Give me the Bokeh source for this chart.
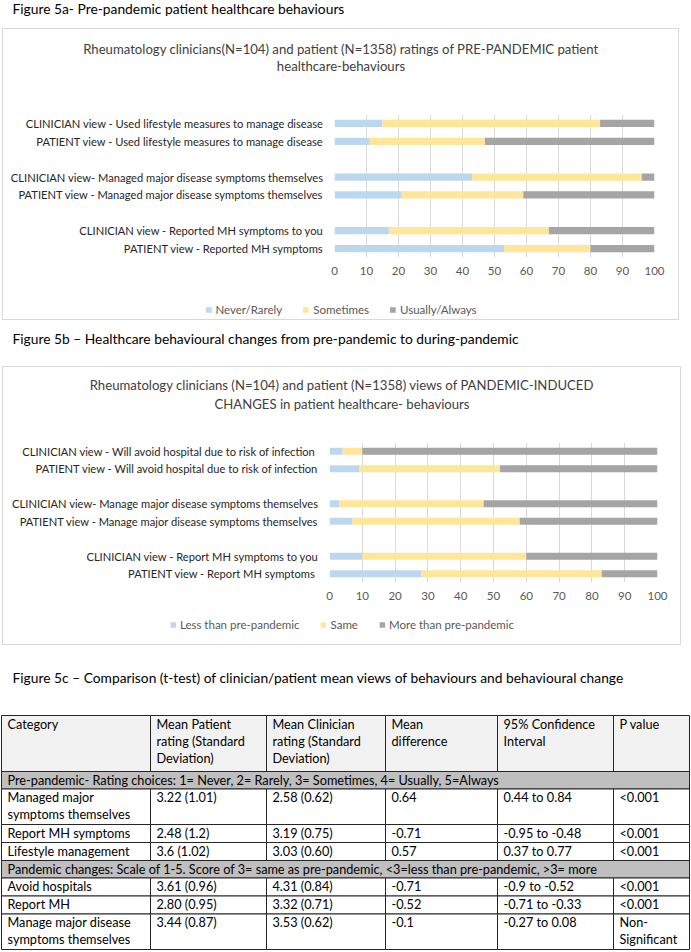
from bokeh.plotting import figure
from bokeh.models import ColumnDataSource, FactorRange, Range1d, Legend, LegendItem
from bokeh.layouts import column
from bokeh.embed import file_html
from bokeh.resources import INLINE
from bokeh.core.properties import value

FONT = "Lato"
NAN = float("nan")

# ---------------- data: figure 5a ----------------
caption_a = "Figure 5a- Pre-pandemic patient healthcare behaviours"
title_a = ["Rheumatology clinicians(N=104) and patient (N=1358) ratings of PRE-PANDEMIC patient",
           "healthcare-behaviours"]
labels_a = ["CLINICIAN view - Used lifestyle measures to manage disease",
            "PATIENT view - Used lifestyle measures to manage disease",
            "CLINICIAN view- Managed major disease symptoms themselves",
            "PATIENT view - Managed major disease symptoms themselves",
            "CLINICIAN view - Reported MH symptoms to you",
            "PATIENT view - Reported MH symptoms"]
never_a = [15, 11, 43, 21, 17, 53]
sometimes_a = [68, 36, 53, 38, 50, 27]
usually_a = [17, 53, 4, 41, 33, 20]
series_a = ["Never/Rarely", "Sometimes", "Usually/Always"]

# ---------------- data: figure 5b ----------------
caption_b = "Figure 5b \u2013 Healthcare behavioural changes from pre-pandemic to during-pandemic"
title_b = ["Rheumatology clinicians (N=104) and patient (N=1358) views of PANDEMIC-INDUCED",
           "CHANGES in patient healthcare- behaviours"]
labels_b = ["CLINICIAN  view - Will avoid hospital due to risk of infection",
            "PATIENT view - Will avoid hospital due to risk of infection",
            "CLINICIAN view- Manage major disease symptoms themselves",
            "PATIENT view - Manage major disease symptoms themselves",
            "CLINICIAN view - Report MH symptoms to you",
            "PATIENT view - Report MH symptoms "]
less_b = [4, 9, 3, 7, 10, 28]
same_b = [6, 43, 44, 51, 50, 55]
more_b = [90, 48, 53, 42, 40, 17]
series_b = ["Less than pre-pandemic", "Same", "More than pre-pandemic"]

x_ticks = [0, 10, 20, 30, 40, 50, 60, 70, 80, 90, 100]

# ---------------- data: figure 5c table ----------------
caption_c = "Figure 5c \u2013 Comparison (t-test) of clinician/patient mean views of behaviours and behavioural change"
table_header = ["Category", "Mean Patient\nrating (Standard\nDeviation)",
                "Mean Clinician\nrating (Standard\nDeviation)", "Mean\ndifference",
                "95% Confidence\nInterval", "P value"]
section_pre = "Pre-pandemic- Rating choices: 1= Never, 2= Rarely, 3= Sometimes, 4= Usually,  5=Always"
rows_pre = [
    ["Managed major\nsymptoms themselves", "3.22 (1.01)", "2.58 (0.62)", "0.64", "0.44 to 0.84", "<0.001"],
    ["Report MH symptoms", "2.48 (1.2)", "3.19 (0.75)", "-0.71", "-0.95 to -0.48", "<0.001"],
    ["Lifestyle management", "3.6 (1.02)", "3.03 (0.60)", "0.57", "0.37 to 0.77", "<0.001"],
]
section_pan = "Pandemic changes: Scale of 1-5. Score of 3= same as pre-pandemic, <3=less than pre-pandemic, >3= more"
rows_pan = [
    ["Avoid hospitals", "3.61 (0.96)", "4.31 (0.84)", "-0.71", "-0.9 to -0.52", "<0.001"],
    ["Report MH", "2.80 (0.95)", "3.32 (0.71)", "-0.52", "-0.71 to -0.33", "<0.001"],
    ["Manage major disease\nsymptoms themselves", "3.44 (0.87)", "3.53 (0.62)", "-0.1", "-0.27 to 0.08", "Non-\nSignificant"],
]

COLORS = ["#bdd7ee", "#ffe699", "#a5a5a5"]
FRAME_COLOR = "#d9d9d9"
CAPTION_SIZE = "13.8px"


def no_align(p):
    try:
        p.frame_align = False
    except Exception:
        pass
    return p


def text_fig(w, h):
    p = figure(width=w, height=h, x_range=Range1d(0, w), y_range=Range1d(h, 0),
               output_backend="svg", toolbar_location=None, min_border=0,
               x_axis_location=None, y_axis_location=None)
    p.grid.visible = False
    p.outline_line_color = None
    p.background_fill_color = None
    p.border_fill_color = None
    return no_align(p)


def caption_fig(text, h, y):
    p = text_fig(691, h)
    p.text(x=[12], y=[y], text=[text], text_font=value(FONT), text_font_size=CAPTION_SIZE,
           text_baseline="middle", text_align="left", text_color="#000000")
    return p


def bar_chart(title_lines, labels, vals, names, W, title_h, title_ys,
              frame_left, frame_right, frame_top, frame_h, chart_h, legend_h, legend_margin):
    # chart title (two centred lines)
    tf = text_fig(W, title_h)
    tf.text(x=[W / 2, W / 2], y=title_ys, text=title_lines, text_font=value(FONT),
            text_font_size="13.15px", text_baseline="middle", text_align="center",
            text_color="#404040")

    # stacked bars
    slots = [labels[0], labels[1], " ", labels[2], labels[3], "  ", labels[4], labels[5]]
    p = figure(width=W, height=chart_h, y_range=FactorRange(factors=slots[::-1]),
               x_range=Range1d(0, 100), output_backend="svg", toolbar_location=None,
               min_border_left=frame_left, min_border_right=W - frame_right,
               min_border_top=frame_top, min_border_bottom=chart_h - frame_top - frame_h)
    no_align(p)
    p.outline_line_color = None
    src = ColumnDataSource(dict(label=labels, s0=vals[0], s1=vals[1], s2=vals[2]))
    p.hbar_stack(["s0", "s1", "s2"], y="label", height=0.4, color=COLORS,
                 line_color=None, source=src)

    p.xaxis.ticker = x_ticks
    p.xaxis.axis_line_color = None
    p.xaxis.major_tick_line_color = None
    p.xaxis.minor_tick_line_color = None
    p.xaxis.major_tick_out = 0
    p.xaxis.major_label_standoff = 9
    p.xaxis.major_label_text_font = FONT
    p.xaxis.major_label_text_font_size = "11.5px"
    p.xaxis.major_label_text_color = "#595959"

    p.yaxis.axis_line_color = None
    p.yaxis.major_tick_line_color = None
    p.yaxis.major_tick_out = 0
    p.yaxis.major_label_standoff = 11
    p.yaxis.major_label_text_font = FONT
    p.yaxis.major_label_text_font_size = "11.15px"
    p.yaxis.major_label_text_color = "#262626"

    p.xgrid.ticker = x_ticks
    p.xgrid.grid_line_color = FRAME_COLOR
    p.ygrid.grid_line_color = None

    # legend strip (legend keys are proxies with no visible data)
    lf = text_fig(W, legend_h)
    proxies = [lf.quad(left=[NAN], right=[NAN], top=[NAN], bottom=[NAN],
                       fill_color=c, line_color=None) for c in COLORS]
    legend = Legend(items=[LegendItem(label=n, renderers=[r]) for n, r in zip(names, proxies)],
                    orientation="horizontal", location="top_center",
                    glyph_width=7, glyph_height=7, label_height=14, label_standoff=4,
                    spacing=20, padding=0, margin=legend_margin, border_line_color=None,
                    background_fill_alpha=0, label_text_font=FONT,
                    label_text_font_size="11.5px", label_text_color="#595959")
    lf.add_layout(legend, "center")

    return column(tf, p, lf, spacing=0, margin=(0, 0, 0, 2),
                  styles={"border": "1px solid " + FRAME_COLOR})


cap_a = caption_fig(caption_a, 28, 8)
chart_a = bar_chart(title_a, labels_a, [never_a, sometimes_a, usually_a], series_a,
                    W=675, title_h=60, title_ys=[19, 36],
                    frame_left=331, frame_right=651, frame_top=25, frame_h=143,
                    chart_h=200, legend_h=30, legend_margin=13)
cap_b = caption_fig(caption_b, 46, 18)
chart_b = bar_chart(title_b, labels_b, [less_b, same_b, more_b], series_b,
                    W=677, title_h=55, title_ys=[17, 36],
                    frame_left=326, frame_right=654, frame_top=20, frame_h=140,
                    chart_h=192, legend_h=30, legend_margin=3)

# ---------------- table ----------------
tbl_h = 307
tbl = text_fig(691, tbl_h)
tbl.text(x=[12], y=[32], text=[caption_c], text_font=value(FONT), text_font_size=CAPTION_SIZE,
         text_baseline="middle", text_align="left", text_color="#000000")

col_edges = [1, 150, 266, 385, 497, 613, 689]
line_h = 17.5
rows = [("cells", table_header, "#f2f2f2"), ("section", section_pre, "#bfbfbf")]
rows += [("cells", r, "#ffffff") for r in rows_pre]
rows += [("section", section_pan, "#bfbfbf")]
rows += [("cells", r, "#ffffff") for r in rows_pan]

q = dict(left=[], right=[], top=[], bottom=[], fill=[])
t = dict(x=[], y=[], text=[])
y0 = 70
for i, (kind, content, fill) in enumerate(rows):
    if i == 0:
        h = 56
    elif kind == "section":
        h = line_h
    else:
        n = max(c.count("\n") + 1 for c in content)
        h = 0.5 + line_h * n
    cells = [content] if kind == "section" else content
    edges = [col_edges[0], col_edges[-1]] if kind == "section" else col_edges
    for j, c in enumerate(cells):
        q["left"].append(edges[j]); q["right"].append(edges[j + 1])
        q["top"].append(y0); q["bottom"].append(y0 + h); q["fill"].append(fill)
        for k, line in enumerate(c.split("\n")):
            t["x"].append(edges[j] + 6)
            t["y"].append(y0 + 8 + 17 * k)
            t["text"].append(line)
    y0 += h

tbl.quad(left="left", right="right", top="top", bottom="bottom", fill_color="fill",
         line_color="#262626", line_width=1, source=ColumnDataSource(q))
tbl.text(x="x", y="y", text="text", source=ColumnDataSource(t), text_font=value(FONT),
         text_font_size="12.7px", text_baseline="alphabetic", text_align="left",
         text_color="#000000")

root = column(cap_a, chart_a, cap_b, chart_b, tbl, spacing=0)

open("out.html", "w").write(file_html(root, INLINE))
